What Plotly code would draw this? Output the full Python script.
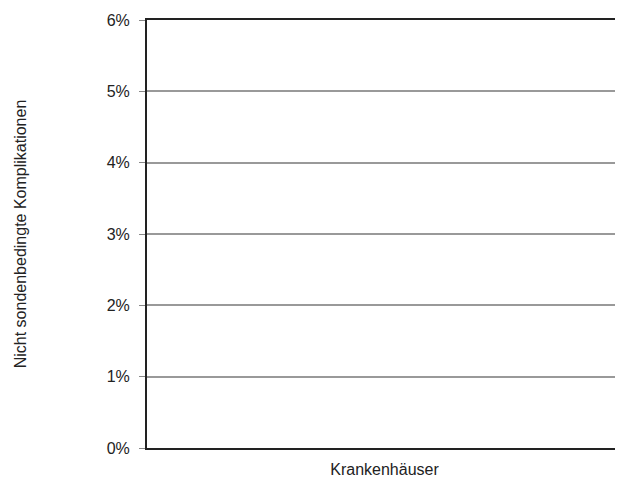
import plotly.graph_objects as go

y_ticks = [0, 0.01, 0.02, 0.03, 0.04, 0.05, 0.06]
y_labels = ["0%", "1%", "2%", "3%", "4%", "5%", "6%"]
x_title = "Krankenhäuser"
y_title = "Nicht sondenbedingte Komplikationen"

fig = go.Figure()
fig.add_trace(go.Scatter(x=[], y=[], mode="markers", showlegend=False))

# page has an 8px body margin, so keep the figure inside the window
fig.update_layout(
    width=615, height=477,
    paper_bgcolor="white", plot_bgcolor="white",
    margin=dict(l=139, r=1, t=12, b=37, autoexpand=False),
    font=dict(family="Liberation Sans, Arial", size=16, color="#222"),
    xaxis=dict(range=[0, 1], showticklabels=False, showgrid=False, zeroline=False,
               showline=True, linecolor="#222", linewidth=2, mirror=True,
               title=dict(text=x_title, font=dict(size=16), standoff=15)),
    yaxis=dict(range=[0, 0.06], tickvals=y_ticks, ticktext=y_labels,
               showgrid=True, gridcolor="#999", gridwidth=1.5, zeroline=False,
               showline=True, linecolor="#222", linewidth=2,
               ticks="outside", ticklen=6, tickcolor="#888", ticklabelstandoff=6,
               title=dict(text=y_title, font=dict(size=16), standoff=76)),
)

fig.write_html("out.html")
